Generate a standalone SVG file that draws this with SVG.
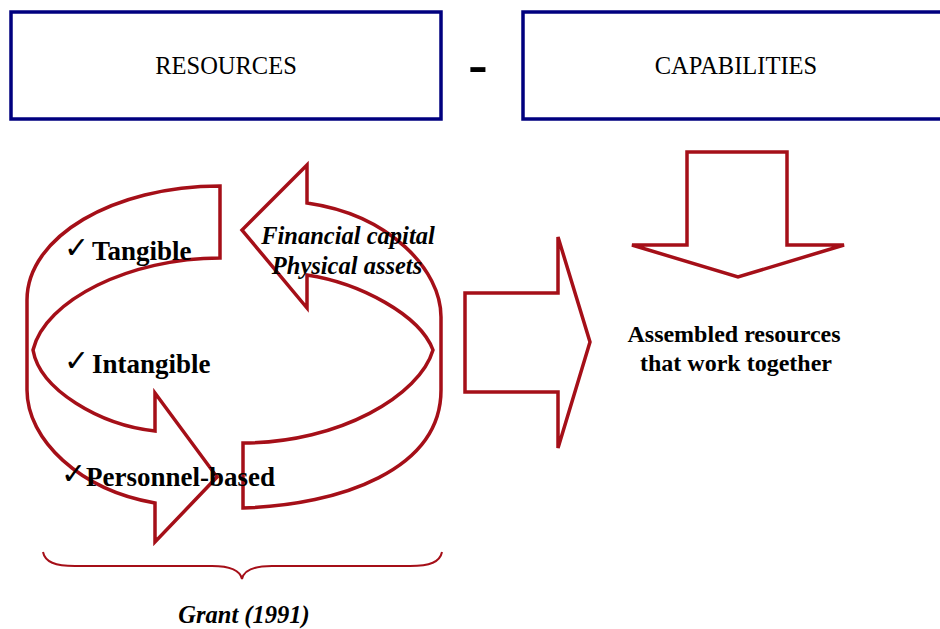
<svg xmlns="http://www.w3.org/2000/svg" width="940" height="629" viewBox="0 0 940 629">
<style>
.box{fill:#fff;stroke:#00007f;stroke-width:3.5}
.arr{fill:none;stroke:#a50f18;stroke-width:3.5;stroke-linejoin:miter}
.brace{fill:none;stroke:#a50f18;stroke-width:2}
.t{font-family:"Liberation Serif","Times New Roman",serif;fill:#000}
.head{font-size:24.5px}
.item{font-size:27px;font-weight:bold}
.chk{font-family:"DejaVu Sans",sans-serif;font-size:30px;font-weight:normal}
.it{font-size:24.5px;font-weight:bold;font-style:italic}
.cap{font-size:24px;font-weight:bold}
</style>
<rect width="940" height="629" fill="#fff"/>
<g id="resources">
<rect class="box" x="11" y="12" width="430" height="107"/>
<text class="t head" x="226" y="74" text-anchor="middle">RESOURCES</text>
</g>
<text class="t" x="478" y="83" text-anchor="middle" font-size="58" font-weight="bold">-</text>
<g id="capabilities">
<rect class="box" x="523" y="12" width="430" height="107"/>
<text class="t head" x="736" y="74" text-anchor="middle">CAPABILITIES</text>
</g>
<g id="connectors">
<path id="cycle-upper" class="arr" d="M220,186 C113,186 27,237 27,300 L27,390 C27,440 80,490 155,503 L155,542 L217,477 L155,393 L155,431 C100,425 40,390 33,350 C45,300 130,258 220,258 Z"/>
<path id="cycle-lower" class="arr" d="M243,443 L243,508 C340,505 441,470 441,390 L441,317 C441,270 390,215 307,203 L307,165 L242,230 L307,308 L307,275 C360,283 420,315 433,350 C420,395 340,443 243,443 Z"/>
<path id="arrow-right" class="arr" d="M465,293 L558,293 L558,237 L590,342 L558,448 L558,392 L465,392 Z"/>
<path id="arrow-down" class="arr" d="M687,152 L787,152 L787,245 L844,245 L738,277 L632,245 L687,245 Z"/>
<path id="brace" class="brace" d="M43,552 C45,562 55,566 75,566 L212,566 C230,566 240,570 242,579 C244,570 254,566 272,566 L410,566 C430,566 440,562 442,552"/>
</g>
<g id="resource-types">
<text class="t item" y="260"><tspan class="chk" x="64" dy="-2">✓</tspan><tspan x="92" dy="2">Tangible</tspan></text>
<text class="t item" y="373"><tspan class="chk" x="64" dy="-2">✓</tspan><tspan x="92" dy="2">Intangible</tspan></text>
<text class="t item" y="486"><tspan class="chk" x="61" dy="-2">✓</tspan><tspan x="86" dy="2">Personnel-based</tspan></text>
</g>
<g id="tangible-examples">
<text class="t it" x="348" y="244" text-anchor="middle">Financial capital</text>
<text class="t it" x="347" y="274" text-anchor="middle">Physical assets</text>
</g>
<g id="capabilities-def">
<text class="t cap" x="734" y="342" text-anchor="middle">Assembled resources</text>
<text class="t cap" x="736" y="371" text-anchor="middle">that work together</text>
</g>
<g id="source">
<text class="t it" x="244" y="623" text-anchor="middle">Grant (1991)</text>
</g>
</svg>
